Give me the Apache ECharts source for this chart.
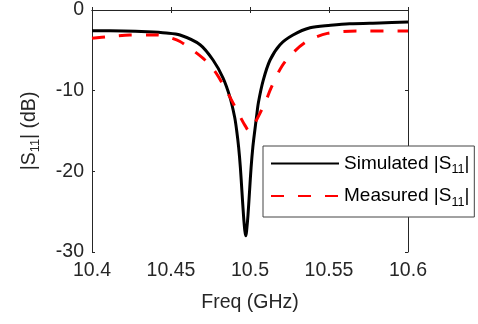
<!DOCTYPE html>
<html>
<head>
<meta charset="utf-8">
<script src="https://cdn.jsdelivr.net/npm/echarts@6/dist/echarts.min.js"></script>
<style>
  html, body { margin: 0; padding: 0; background: #fff; }
  #chart { width: 478px; height: 324px; }
</style>
</head>
<body>
<div id="chart"></div>
<script>
// values
const simFreq = [10.400, 10.420, 10.435, 10.447, 10.4557, 10.4684, 10.4766, 10.4829, 10.4873, 10.4903,
  10.4916, 10.4928, 10.4939, 10.4949, 10.4959, 10.4967, 10.4974, 10.4979, 10.4987, 10.4997,
  10.5007, 10.5018, 10.5030, 10.5041, 10.5053, 10.5084, 10.5127, 10.5190, 10.5272, 10.5380,
  10.551, 10.563, 10.582, 10.600]
const simS11 = [-2.56, -2.6, -2.7, -2.85, -3.1, -4.3, -6.2, -8.4, -10.8, -13.3,
  -15.0, -17.0, -19.5, -22.5, -25.5, -27.3, -28.0, -27.3, -25.5, -22.5,
  -19.5, -17.0, -15.0, -13.3, -11.5, -8.7, -6.2, -4.3, -3.1, -2.2,
  -1.9, -1.7, -1.6, -1.5]

const measFreq = [10.400, 10.411, 10.424, 10.441, 10.449, 10.4557, 10.4639, 10.4715, 10.4778, 10.4831,
  10.4884, 10.4937, 10.4968, 10.4994, 10.5042, 10.5095, 10.5137, 10.5201, 10.5272, 10.5359,
  10.549, 10.568, 10.600]
const measS11 = [-3.5, -3.3, -3.1, -3.1, -3.4, -3.9, -5.0, -6.2, -7.6, -9.3,
  -11.2, -13.2, -14.3, -15.0, -13.6, -11.5, -9.5, -7.0, -5.3, -3.9,
  -2.9, -2.6, -2.6]

const seriesNames = ['Simulated', 'Measured']
const xTicks = { min: 10.4, max: 10.6, step: 0.05 }
const yTicks = { min: -30, max: 0, step: 10 }

const FONT = 'Liberation Sans, Arial, sans-serif'
const AXIS_COLOR = '#262626'
const FS = 19.5

// rich styles for the |S11| subscript
const richSub = (size) => ({
  m: { fontSize: size, lineHeight: size, verticalAlign: 'top', fontFamily: FONT },
  s: { fontSize: size * 0.66, lineHeight: size * 0.66, padding: [size * 0.5, 0, 0, 0], verticalAlign: 'top', fontFamily: FONT },
})

const pair = (xs, ys) => xs.map((x, i) => [x, ys[i]])

const boxAxis = (extra) => ({
  axisLine: { show: true, lineStyle: { color: AXIS_COLOR, width: 1 } },
  axisTick: { show: true, inside: true, length: 3, lineStyle: { color: AXIS_COLOR } },
  splitLine: { show: false },
  ...extra,
})

const chart = echarts.init(document.getElementById('chart'))
chart.setOption({
  animation: false,
  grid: { left: 92, right: 70, top: 10, bottom: 72 },
  xAxis: [
    boxAxis({
      type: 'value', min: xTicks.min, max: xTicks.max, interval: xTicks.step,
      name: 'Freq (GHz)', nameLocation: 'middle', nameGap: 41,
      nameTextStyle: { fontSize: FS, color: AXIS_COLOR, fontFamily: FONT },
      axisLabel: {
        fontSize: FS, color: AXIS_COLOR, fontFamily: FONT, margin: 9,
        formatter: v => String(+v.toFixed(2)),
      },
    }),
    boxAxis({
      type: 'value', position: 'top', min: xTicks.min, max: xTicks.max, interval: xTicks.step,
      axisLabel: { show: false },
    }),
  ],
  yAxis: [
    boxAxis({
      type: 'value', min: yTicks.min, max: yTicks.max, interval: yTicks.step,
      name: '{m||S}{s|11}{m|| (dB)}', nameLocation: 'middle', nameGap: 53,
      nameTextStyle: { color: AXIS_COLOR, rich: richSub(FS) },
      axisLabel: { fontSize: FS, color: AXIS_COLOR, fontFamily: FONT, margin: 8 },
    }),
    boxAxis({
      type: 'value', position: 'right', min: yTicks.min, max: yTicks.max, interval: yTicks.step,
      axisLabel: { show: false },
    }),
  ],
  legend: {
    orient: 'vertical',
    left: 263,
    top: 146,
    padding: [8, 5, 8, 7],
    itemGap: 10,
    itemWidth: 68,
    itemHeight: 14,
    backgroundColor: '#fff',
    borderColor: '#444',
    borderWidth: 1,
    borderRadius: 0,
    itemStyle: { opacity: 0, borderWidth: 0 },
    textStyle: { color: '#000', rich: richSub(19) },
    formatter: name => `{m|${name} |S}{s|11}{m||}`,
    data: seriesNames,
  },
  series: [
    {
      name: seriesNames[0],
      type: 'line',
      data: pair(simFreq, simS11),
      showSymbol: false,
      symbol: 'none',
      smooth: 0.3,
      lineStyle: { color: '#000', width: 3 },
      itemStyle: { color: '#000' },
    },
    {
      name: seriesNames[1],
      type: 'line',
      data: pair(measFreq, measS11),
      showSymbol: false,
      symbol: 'none',
      smooth: 0.3,
      lineStyle: { color: '#ff0000', width: 3, type: [13, 14] },
      itemStyle: { color: '#ff0000' },
    },
  ],
})
</script>
</body>
</html>
